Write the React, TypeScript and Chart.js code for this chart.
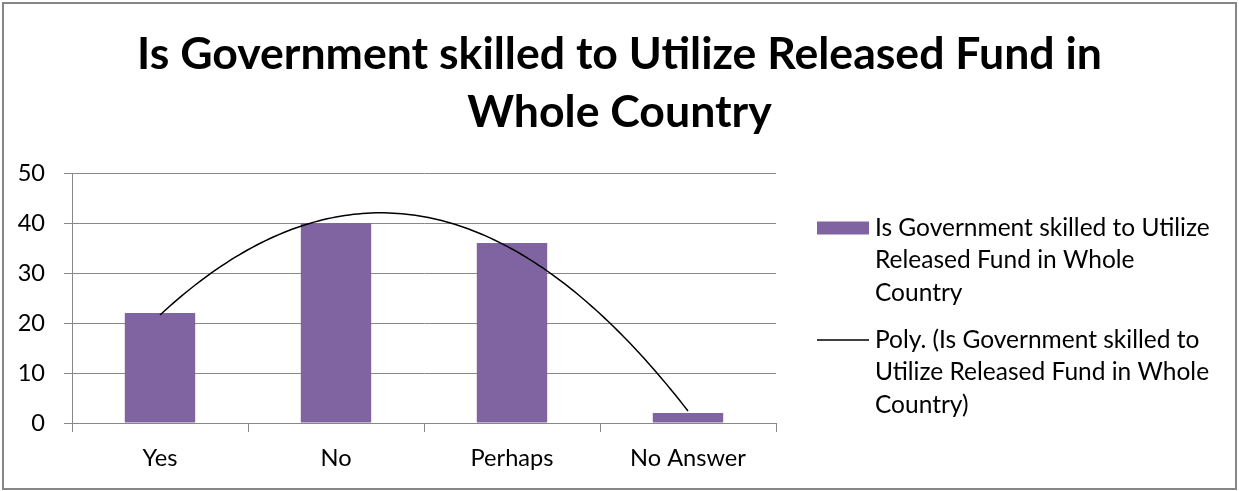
import React, { useEffect, useRef } from "react";
import { Chart, registerables } from "chart.js";

Chart.register(...registerables);

// ---- data ----
const categories: string[] = ["Yes", "No", "Perhaps", "No Answer"];
const values: number[] = [22, 40, 36, 2];
const seriesName = "Is Government skilled to Utilize Released Fund in Whole Country";
const trendName = "Poly. (Is Government skilled to Utilize Released Fund in Whole Country)";
const titleLines: string[] = ["Is Government skilled to Utilize Released Fund in", "Whole Country"];
const legendBarLines: string[] = ["Is Government skilled to Utilize", "Released Fund in Whole", "Country"];
const legendTrendLines: string[] = ["Poly. (Is Government skilled to", "Utilize Released Fund in Whole", "Country)"];
const yMin = 0;
const yMax = 50;
const yStep = 10;

// ---- style ----
const FONT = "Lato, 'Open Sans', sans-serif";
const BAR_COLOR = "#8064A2";
const GRID_COLOR = "#888888";

function fitSize(text: string, weight: string, target: number): number {
  const ctx = document.createElement("canvas").getContext("2d")!;
  ctx.font = `${weight} 100px ${FONT}`;
  const w = ctx.measureText(text).width;
  return Math.round(((100 * target) / w) * 10) / 10;
}

// least-squares polynomial (order 2) trendline, as the spreadsheet computes it
function polyFit2(ys: number[]): number[] {
  const S = [0, 0, 0, 0, 0];
  const T = [0, 0, 0];
  ys.forEach((y, i) => {
    const x = i + 1;
    for (let k = 0; k < 5; k++) S[k] += Math.pow(x, k);
    for (let k = 0; k < 3; k++) T[k] += Math.pow(x, k) * y;
  });
  const A = [
    [S[0], S[1], S[2], T[0]],
    [S[1], S[2], S[3], T[1]],
    [S[2], S[3], S[4], T[2]],
  ];
  for (let c = 0; c < 3; c++) {
    for (let r = c + 1; r < 3; r++) {
      const f = A[r][c] / A[c][c];
      for (let k = c; k < 4; k++) A[r][k] -= f * A[c][k];
    }
  }
  const coef = [0, 0, 0];
  for (let r = 2; r >= 0; r--) {
    let s = A[r][3];
    for (let k = r + 1; k < 3; k++) s -= A[r][k] * coef[k];
    coef[r] = s / A[r][r];
  }
  return coef;
}

export default function App() {
  const ref = useRef<HTMLCanvasElement | null>(null);

  useEffect(() => {
    document.body.style.margin = "0";
    const canvas = ref.current;
    if (!canvas) return;

    const titleSize = fitSize(titleLines[0], "bold", 964);
    const tickSize = fitSize("No Answer", "normal", 116);
    const legendSize = fitSize(legendBarLines[0], "normal", 335);

    const coef = polyFit2(values);
    const trendPoints: { x: number; y: number }[] = [];
    const n = values.length;
    for (let i = 0; i <= (n - 1) * 40; i++) {
      const t = i / 40; // category index position
      const x = t + 1;
      trendPoints.push({ x: t, y: coef[0] + coef[1] * x + coef[2] * x * x });
    }

    const framePlugin = {
      id: "frame",
      afterDraw(chart: any) {
        const ctx = chart.ctx;
        ctx.save();
        ctx.strokeStyle = "#868686";
        ctx.lineWidth = 2;
        ctx.strokeRect(3, 3, chart.width - 6, chart.height - 5);
        ctx.restore();
      },
    };

    const legendPlugin = {
      id: "customLegend",
      afterDraw(chart: any) {
        const ctx = chart.ctx;
        const area = chart.chartArea;
        const x0 = area.right + 41;
        const symW = 52;
        const tx = x0 + symW + 6;
        const lh = 32.5;
        ctx.save();
        ctx.font = `normal ${legendSize}px ${FONT}`;
        ctx.textBaseline = "middle";
        ctx.textAlign = "left";
        const y1 = area.top + 55;
        ctx.fillStyle = BAR_COLOR;
        ctx.fillRect(x0, y1 - 6.5, symW, 13);
        ctx.fillStyle = "#000";
        legendBarLines.forEach((l, i) => ctx.fillText(l, tx, y1 + i * lh));
        const y2 = area.top + 167;
        ctx.strokeStyle = "#000";
        ctx.lineWidth = 1.5;
        ctx.beginPath();
        ctx.moveTo(x0, y2);
        ctx.lineTo(x0 + symW, y2);
        ctx.stroke();
        legendTrendLines.forEach((l, i) => ctx.fillText(l, tx, y2 + i * lh));
        ctx.restore();
      },
    };

    const chart = new Chart(canvas, {
      type: "bar",
      data: {
        labels: categories,
        datasets: [
          {
            type: "bar",
            label: seriesName,
            data: values,
            backgroundColor: BAR_COLOR,
            borderWidth: 0,
            barPercentage: 0.4,
            categoryPercentage: 1,
            grouped: false,
            order: 2,
          } as any,
          {
            type: "line",
            label: trendName,
            data: trendPoints,
            parsing: false,
            borderColor: "#000",
            borderWidth: 1.5,
            pointRadius: 0,
            fill: false,
            tension: 0,
            order: 1,
          } as any,
        ],
      },
      options: {
        animation: false,
        responsive: false,
        maintainAspectRatio: false,
        events: [],
        layout: { padding: 0 },
        plugins: {
          legend: { display: false },
          tooltip: { enabled: false },
          title: {
            display: true,
            text: titleLines,
            color: "#000",
            font: { family: FONT, size: titleSize, weight: "bold", lineHeight: "58px" },
            padding: { top: 26, bottom: 31 },
          },
        },
        scales: {
          x: {
            type: "category",
            offset: true,
            grid: {
              drawOnChartArea: false,
              drawTicks: true,
              tickLength: 9,
              color: GRID_COLOR,
              offset: true,
            },
            border: { color: GRID_COLOR },
            ticks: {
              color: "#000",
              font: { family: FONT, size: tickSize },
              padding: 12,
              maxRotation: 0,
              autoSkip: false,
            },
            afterFit: (s: any) => {
              s.height = 68;
            },
          },
          y: {
            type: "linear",
            min: yMin,
            max: yMax,
            ticks: {
              stepSize: yStep,
              color: "#000",
              font: { family: FONT, size: tickSize },
              padding: 19,
            },
            grid: { color: GRID_COLOR, tickLength: 8 },
            border: { color: GRID_COLOR },
            afterFit: (s: any) => {
              s.width = 72;
            },
          },
          spacer: {
            type: "linear",
            axis: "y",
            position: "right",
            display: true,
            grid: { display: false },
            ticks: { display: false },
            border: { display: false },
            afterFit: (s: any) => {
              s.width = 463;
            },
          },
        },
      } as any,
      plugins: [framePlugin, legendPlugin],
    });

    return () => chart.destroy();
  }, []);

  return (
    <div style={{ position: "fixed", left: 0, top: 0, width: 1239, height: 491, background: "#fff" }}>
      <canvas ref={ref} width={1239} height={491} style={{ width: 1239, height: 491, display: "block" }} />
    </div>
  );
}
